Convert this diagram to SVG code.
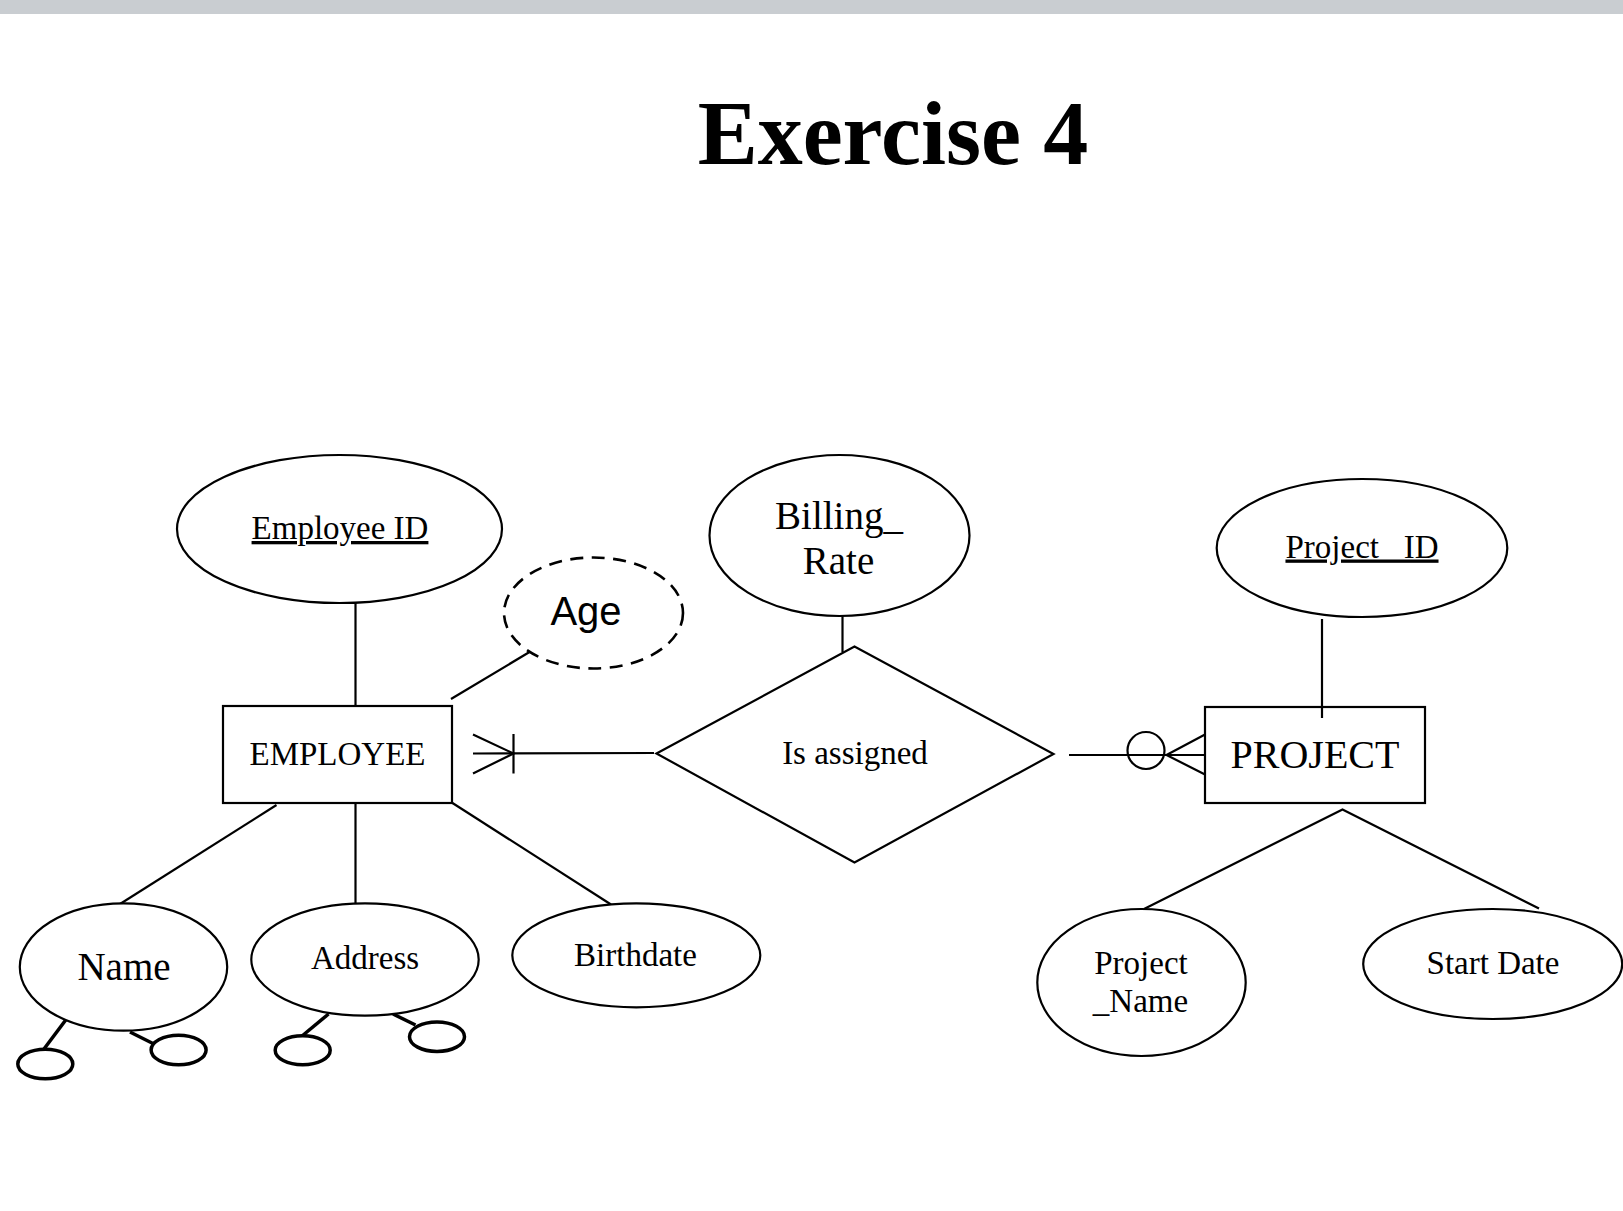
<svg xmlns="http://www.w3.org/2000/svg" width="1623" height="1211" viewBox="0 0 1623 1211">
<style>
.s{fill:none;stroke:#000;stroke-width:2.2}
.e{fill:#fff;stroke:#000;stroke-width:2.2}
.d{fill:#fff;stroke:#000;stroke-width:2.6;stroke-dasharray:13 8.5}
.sub{fill:#fff;stroke:#000;stroke-width:3.5}
.t{font-family:"Liberation Serif","Times New Roman",serif;font-size:33px;fill:#000;text-anchor:middle}
.a{font-family:"Liberation Sans",Arial,sans-serif;font-size:40px;fill:#000;text-anchor:middle}
</style>
<rect x="0" y="0" width="1623" height="14" fill="#c9cdd1"/>
<text x="893" y="164" font-family="'Liberation Serif','Times New Roman',serif" font-weight="bold" font-size="90" text-anchor="middle">Exercise 4</text>

<g id="connectors">
  <line class="s" x1="355.5" y1="603" x2="355.5" y2="706"/>
  <polyline class="s" points="451,699 532,650.5 527,646"/>
  <line class="s" x1="842.5" y1="612" x2="842.5" y2="652"/>
  <line class="s" x1="1322" y1="619" x2="1322" y2="718"/>
  <line class="s" x1="276.5" y1="805" x2="120" y2="904"/>
  <line class="s" x1="355.5" y1="803" x2="355.5" y2="904"/>
  <line class="s" x1="452.5" y1="803" x2="611" y2="904.5"/>
  <polyline class="s" points="1144,909 1342.5,809.5 1539,908.5"/>
  <!-- employee side: one-and-many -->
  <line class="s" x1="473" y1="753.5" x2="654" y2="753"/>
  <line class="s" x1="513.5" y1="734" x2="513.5" y2="773.5"/>
  <polyline class="s" points="473,734.5 513.5,753.5 473,773.5"/>
  <!-- project side: zero-or-many -->
  <line class="s" x1="1069" y1="755" x2="1205" y2="755"/>
  <circle class="s" cx="1146" cy="750.5" r="18.5"/>
  <polyline class="s" points="1205,734.5 1166.5,755 1205,774.5"/>
  <!-- name/address sub attributes -->
  <line class="sub" x1="68" y1="1017" x2="44" y2="1049"/>
  <line class="sub" x1="130" y1="1032" x2="153" y2="1043.5"/>
  <line class="sub" x1="328.5" y1="1014" x2="302" y2="1036"/>
  <line class="sub" x1="393" y1="1014" x2="415.5" y2="1025"/>
</g>

<g id="employee-id">
  <ellipse class="e" cx="339.5" cy="529" rx="162.5" ry="74"/>
  <text class="t" x="340" y="539" text-decoration="underline">Employee ID</text>
</g>
<g id="age">
  <ellipse class="d" cx="593.5" cy="613" rx="89.5" ry="55.5"/>
  <text class="a" x="586" y="625">Age</text>
</g>
<g id="billing-rate">
  <ellipse class="e" cx="839.5" cy="535.5" rx="130" ry="80.5"/>
  <text class="t" style="font-size:39px" x="839" y="529">Billing_</text>
  <text class="t" style="font-size:39px" x="838.5" y="574">Rate</text>
</g>
<g id="project-id">
  <ellipse class="e" cx="1362" cy="548" rx="145.3" ry="69"/>
  <text class="t" x="1362" y="557.5" text-decoration="underline" xml:space="preserve">Project_ ID</text>
</g>
<g id="employee">
  <rect class="e" x="223" y="706" width="229" height="97"/>
  <text class="t" x="337.5" y="765">EMPLOYEE</text>
</g>
<g id="is-assigned">
  <polygon class="e" points="656.5,753.5 854.5,646.5 1053.5,754 854.5,862.5"/>
  <text class="t" x="855" y="763.5">Is assigned</text>
</g>
<g id="project">
  <rect class="e" x="1205" y="707" width="220" height="96"/>
  <line class="s" x1="1322" y1="707" x2="1322" y2="718"/>
  <text class="t" style="font-size:40px" x="1315" y="767.5">PROJECT</text>
</g>
<g id="name">
  <ellipse class="e" cx="123.5" cy="967" rx="103.7" ry="63.7"/>
  <text class="t" style="font-size:39px" x="124" y="980">Name</text>
</g>
<g id="address">
  <ellipse class="e" cx="365" cy="959.5" rx="113.7" ry="56.2"/>
  <text class="t" x="365" y="969">Address</text>
</g>
<g id="birthdate">
  <ellipse class="e" cx="636.3" cy="955.3" rx="124" ry="52"/>
  <text class="t" x="635.5" y="966">Birthdate</text>
</g>
<g id="name-sub-1"><ellipse class="sub" cx="45.3" cy="1064" rx="27.5" ry="14.8"/></g>
<g id="name-sub-2"><ellipse class="sub" cx="178.6" cy="1050" rx="27.5" ry="14.8"/></g>
<g id="address-sub-1"><ellipse class="sub" cx="302.7" cy="1050.3" rx="27.5" ry="14.5"/></g>
<g id="address-sub-2"><ellipse class="sub" cx="437" cy="1036.7" rx="27.5" ry="14.8"/></g>
<g id="project-name">
  <ellipse class="e" cx="1141.5" cy="982.5" rx="104.2" ry="73.5"/>
  <text class="t" x="1141" y="973.5">Project</text>
  <text class="t" x="1140.5" y="1011.5">_Name</text>
</g>
<g id="start-date">
  <ellipse class="e" cx="1492.7" cy="964" rx="129.5" ry="55"/>
  <text class="t" x="1493" y="973.5">Start Date</text>
</g>
</svg>
